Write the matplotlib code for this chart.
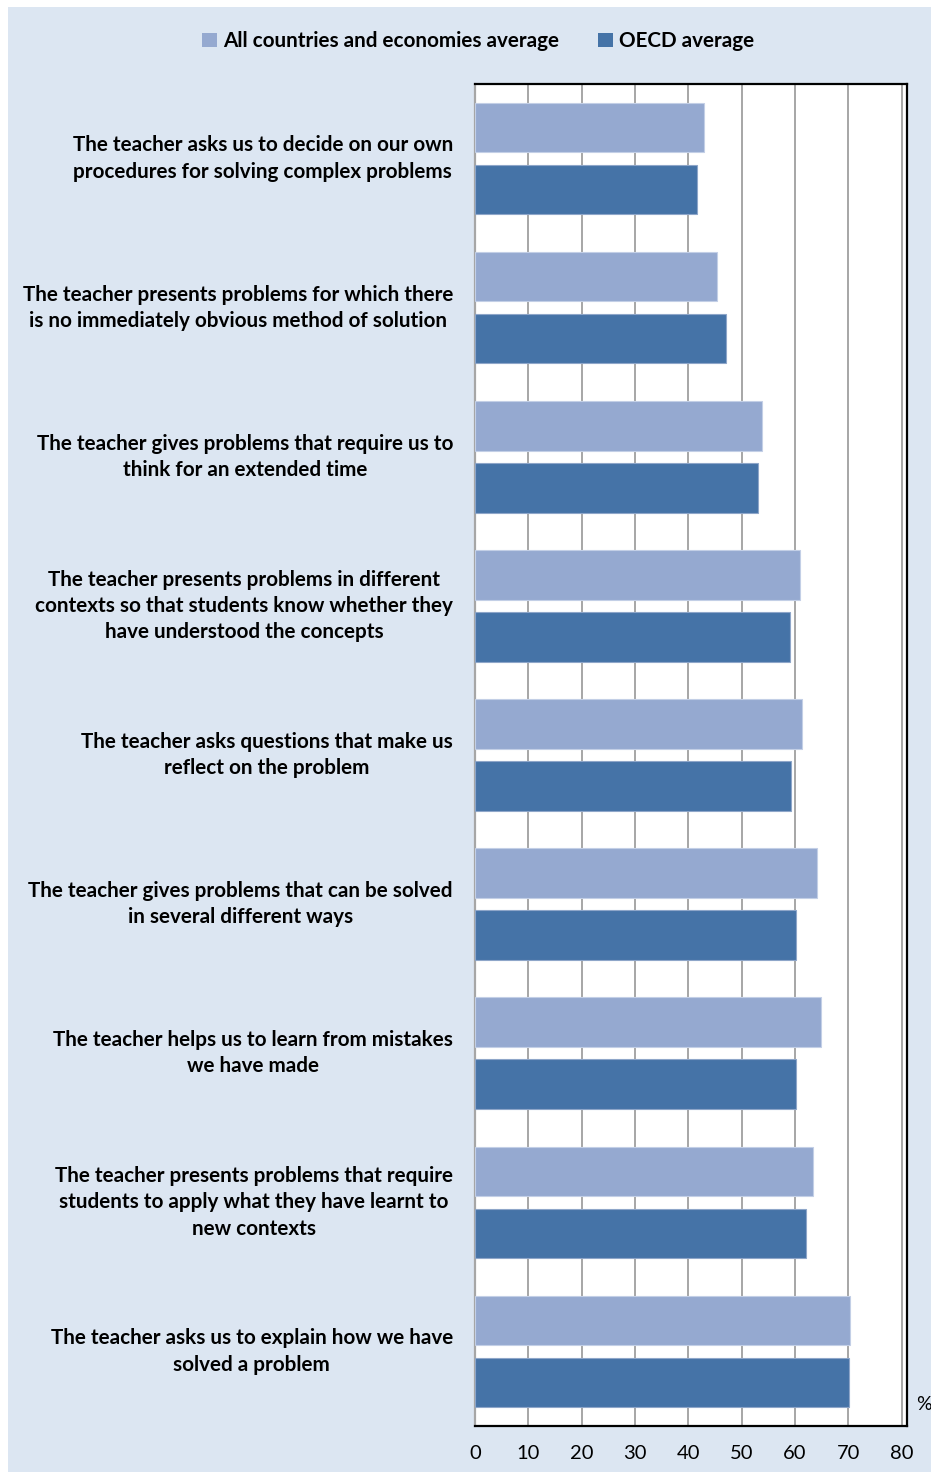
import matplotlib
matplotlib.use("Agg")
import matplotlib.pyplot as plt
from matplotlib.patches import Rectangle, Patch
import numpy as np

categories = [
    "The teacher asks us to decide on our own\nprocedures for solving complex problems",
    "The teacher presents problems for which there\nis no immediately obvious method of solution",
    "The teacher gives problems that require us to\nthink for an extended time",
    "The teacher presents problems in different\ncontexts so that students know whether they\nhave understood the concepts",
    "The teacher asks questions that make us\nreflect on the problem",
    "The teacher gives problems that can be solved\nin several different ways",
    "The teacher helps us to learn from mistakes\nwe have made",
    "The teacher presents problems that require\nstudents to apply what they have learnt to\nnew contexts",
    "The teacher asks us to explain how we have\nsolved a problem",
]
all_countries = [43.0, 45.4, 53.8, 60.9, 61.3, 64.1, 64.9, 63.3, 70.3]
oecd = [41.6, 47.1, 53.1, 59.0, 59.3, 60.1, 60.1, 62.1, 70.1]
series_names = ["All countries and economies average", "OECD average"]
x_ticks = [0, 10, 20, 30, 40, 50, 60, 70, 80]

LIGHT = "#95a9d0"
DARK = "#4573a7"
PANEL = "#dce6f2"
FONT = "Lato"

W, H = 931, 1472
fig = plt.figure(figsize=(W / 100, H / 100), dpi=100)
fig.patch.set_facecolor("white")

# light blue panel behind everything
fig.patches.append(Rectangle((8 / W, 0), 1 - 8 / W, 1 - 7 / H,
                             transform=fig.transFigure, facecolor=PANEL,
                             edgecolor="none", zorder=-10))

left, right, top, bottom = 475, 907, 84, 1426
ax = fig.add_axes([left / W, 1 - bottom / H, (right - left) / W, (bottom - top) / H])
ax.set_facecolor("white")

y = np.arange(len(categories))
off, h = 0.208, 0.332
ax.barh(y - off, all_countries, height=h, color=LIGHT, edgecolor="#c3cfe6",
        linewidth=0.8, zorder=3)
ax.barh(y + off, oecd, height=h, color=DARK, edgecolor="#8ea6c9",
        linewidth=0.8, zorder=3)

ax.set_xlim(0, 81)
ax.set_ylim(len(categories) - 0.5, -0.5)
ax.set_xticks(x_ticks)
ax.set_xticklabels([str(t) for t in x_ticks], fontsize=14.5, family=FONT)
ax.set_yticks([])
ax.tick_params(axis="x", length=0, pad=14)
ax.grid(axis="x", color="#a6a6a6", linewidth=1.4, zorder=1)
ax.set_axisbelow(True)

for s in ["top", "right", "bottom"]:
    ax.spines[s].set_color("black")
    ax.spines[s].set_linewidth(1.6)
ax.spines["left"].set_color("#a6a6a6")
ax.spines["left"].set_linewidth(1.6)

for i, lab in enumerate(categories):
    ax.text(-22 / 5.333, i, lab, ha="right", va="center", multialignment="center",
            fontsize=14.9, fontweight="bold", family=FONT, linespacing=1.39)

fig.text(916 / W, 1 - 1405 / H, "%", ha="left", va="center", fontsize=14, family=FONT)

handles = [Patch(facecolor=LIGHT, edgecolor="none"), Patch(facecolor=DARK, edgecolor="none")]
fig.legend(handles, series_names, loc="center", bbox_to_anchor=(478 / W, 1 - 41 / H),
           ncol=2, frameon=False, handlelength=0.7, handleheight=0.7,
           handletextpad=0.3, columnspacing=1.9,
           prop={"family": FONT, "weight": "bold", "size": 14.9})

fig.savefig("out.png", dpi=100, facecolor=fig.get_facecolor())
